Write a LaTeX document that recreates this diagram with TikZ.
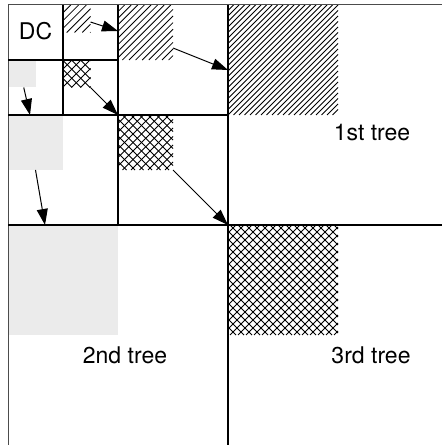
\documentclass[tikz,border=0pt]{standalone}
\usepackage{fontspec}
\setmainfont{TeX Gyre Heros}
\usetikzlibrary{arrows.meta}
\definecolor{lightgray}{HTML}{EBEBEB}
% #1 x, #2 y (top-left, image coords), #3 size, #4 horizontal step
\newcommand\nehatch[4]{%
  \pgfmathtruncatemacro\hN{2*#3/#4}%
  \foreach \i in {1,...,\hN}{%
    \pgfmathsetmacro\hT{-#3+\i*#4}%
    \pgfmathsetmacro\hAx{#1+max(\hT,0)}%
    \pgfmathsetmacro\hAy{#2+#3+min(\hT,0)}%
    \pgfmathsetmacro\hBx{#1+#3+min(\hT,0)}%
    \pgfmathsetmacro\hBy{#2+max(\hT,0)}%
    \draw[hatchline] (\hAx,\hAy) -- (\hBx,\hBy);
  }}
\newcommand\nwhatch[4]{%
  \pgfmathtruncatemacro\hN{2*#3/#4}%
  \foreach \i in {1,...,\hN}{%
    \pgfmathsetmacro\hU{\i*#4}%
    \pgfmathsetmacro\hAx{#1+min(\hU,#3)}%
    \pgfmathsetmacro\hAy{#2+#3-max(\hU-#3,0)}%
    \pgfmathsetmacro\hBx{#1+max(\hU-#3,0)}%
    \pgfmathsetmacro\hBy{#2+max(#3-\hU,0)}%
    \draw[hatchline] (\hAx,\hAy) -- (\hBx,\hBy);
  }}
\begin{document}
\begin{tikzpicture}[x=1bp,y=-1bp,
  frame/.style={draw=black,line width=1.7bp},
  outer/.style={draw=black!70,line width=1bp},
  region/.style={inner sep=0pt,outer sep=0pt,anchor=north west,draw=none},
  grayfill/.style={fill=lightgray},
  hatchline/.style={draw=black,line width=0.8bp},
  conn/.style={-{Triangle[length=16bp,width=11bp]},line width=1bp},
  lab/.style={font=\fontsize{23bp}{27bp}\selectfont,inner sep=0pt}]
\useasboundingbox (0,0) rectangle (442,445);
% shaded regions (named)
\node[region,minimum width=110bp,minimum height=110bp] (h1) at (228,5) {};
\node[region,minimum width=55bp,minimum height=55bp] (h2) at (118,5) {};
\node[region,minimum width=27.5bp,minimum height=27.5bp] (h3) at (63,5) {};
\node[region,grayfill,minimum width=110bp,minimum height=110bp] (g1) at (8,225) {};
\node[region,grayfill,minimum width=55bp,minimum height=55bp] (g2) at (8,115) {};
\node[region,grayfill,minimum width=27.5bp,minimum height=27.5bp] (g3) at (8,60) {};
\node[region,minimum width=110bp,minimum height=110bp] (c1) at (228,225) {};
\node[region,minimum width=55bp,minimum height=55bp] (c2) at (118,115) {};
\node[region,minimum width=27.5bp,minimum height=27.5bp] (c3) at (63,60) {};
% hatching
\nehatch{228}{5}{110}{5.5}
\nehatch{118}{5}{55}{6.6}
\nehatch{63}{5}{27.5}{7.8}
\nehatch{228}{225}{110}{8}
\nwhatch{228}{225}{110}{8}
\nehatch{118}{115}{55}{8.5}
\nwhatch{118}{115}{55}{8.5}
\nehatch{63}{60}{27.5}{9}
\nwhatch{63}{60}{27.5}{9}
% grid
\draw[outer] (442,5) -- (8,5) -- (8,445);
\draw[frame] (228,5) -- (228,445);
\draw[frame] (8,225) -- (442,225);
\draw[frame] (118,5) -- (118,225);
\draw[frame] (8,115) -- (228,115);
\draw[frame] (63,5) -- (63,115);
\draw[frame] (8,60) -- (118,60);
% labels
\node[lab] (dc) at (35.5,31) {DC};
\node[lab] (t1) at (372,133) {1st tree};
\node[lab] (t2) at (125,355) {2nd tree};
\node[lab] (t3) at (371,355) {3rd tree};
% arrow targets
\coordinate (eh3) at (118,31);
\coordinate (eh2) at (228,70);
\coordinate (eg3) at (30,115);
\coordinate (eg2) at (45,225);
\coordinate (ec3) at (118,115);
\coordinate (ec2) at (228,225);
% arrows
\draw[conn] ([yshift=-3.25bp]h3.east) -- (eh3);
\draw[conn] ([yshift=-15.5bp]h2.east) -- (eh2);
\draw[conn] ([xshift=2bp]g3.south) -- (eg3);
\draw[conn] (g2.south) -- (eg2);
\draw[conn] (c3.south east) -- (ec3);
\draw[conn] (c2.south east) -- (ec2);
\end{tikzpicture}
\end{document}
